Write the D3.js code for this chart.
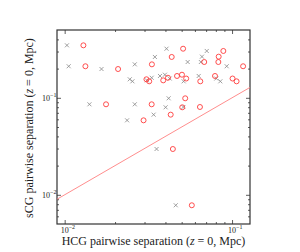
<!DOCTYPE html>
<html>
<head>
<meta charset="utf-8">
<script src="https://cdn.jsdelivr.net/npm/d3@7"></script>
<style>
body { margin: 0; background: #fff; }
text { font-family: "Liberation Serif", "DejaVu Serif", serif; fill: #222; }
</style>
</head>
<body>
<svg id="chart" width="300" height="252"></svg>
<script>
// HCG separation (x) vs sCG separation (y), grey crosses
const crossX = [0.01032, 0.01057, 0.0166, 0.02624, 0.02449, 0.0254, 0.0346, 0.0406, 0.0706, 0.0661,
    0.0543, 0.0651, 0.0929, 0.0331, 0.031, 0.0371, 0.0397, 0.0424, 0.0514, 0.0632,
    0.0805, 0.0851, 0.01406, 0.02624, 0.0236, 0.034, 0.0418, 0.0401, 0.0512, 0.0354, 0.0461]
const crossY = [0.3475, 0.2114, 0.198, 0.2213, 0.1552, 0.1479, 0.2636, 0.3207, 0.3039, 0.2655,
    0.2339, 0.2339, 0.2114, 0.161, 0.1513, 0.1679, 0.173, 0.158, 0.1479, 0.1679,
    0.158, 0.1479, 0.0857, 0.0857, 0.0586, 0.067, 0.0988, 0.0798, 0.0804, 0.02965, 0.0078]
// red open circles
const circleX = [0.01294, 0.0133, 0.02085, 0.0332, 0.0308, 0.032, 0.0436, 0.051, 0.0887, 0.0832,
    0.0682, 0.0828, 0.1164, 0.0414, 0.0388, 0.0469, 0.0502, 0.0532, 0.0646, 0.0791,
    0.1007, 0.1064, 0.01767, 0.0331, 0.0296, 0.043, 0.0525, 0.0504, 0.0643, 0.0443, 0.0575]
const circleY = crossY.slice()
// one-to-one line
const lineX = [0.009, 0.128]

const xTicks = [0.01, 0.1]
const yTicks = [0.01, 0.1]
const xMinor = [0.02, 0.03, 0.04, 0.05, 0.06, 0.07, 0.08, 0.09]
const yMinor = [0.006, 0.007, 0.008, 0.009, 0.02, 0.03, 0.04, 0.05, 0.06, 0.07, 0.08, 0.09, 0.2, 0.3, 0.4]

const svg = d3.select("#chart")
const margin = {top: 30, right: 50, bottom: 28, left: 57}
const width = +svg.attr("width") - margin.left - margin.right
const height = +svg.attr("height") - margin.top - margin.bottom
const g = svg.append("g").attr("transform", "translate(" + margin.left + "," + margin.top + ")")

const x = d3.scaleLog().domain([0.009, 0.128]).range([0, width])
const y = d3.scaleLog().domain([0.005, 0.5]).range([height, 0])

const axisColor = "#333"

// ticks on all four sides, pointing inward
function drawTicks(axisFn, scale, vals, len, transform) {
    const a = g.append("g")
        .attr("transform", transform)
        .call(axisFn(scale).tickValues(vals).tickSize(len).tickFormat(""))
    a.select(".domain").remove()
    a.selectAll("line").attr("stroke", axisColor).attr("stroke-width", 0.8)
}
drawTicks(d3.axisTop, x, xTicks, 4, "translate(0," + height + ")")
drawTicks(d3.axisTop, x, xMinor, 2, "translate(0," + height + ")")
drawTicks(d3.axisBottom, x, xTicks, 4, "translate(0,0)")
drawTicks(d3.axisBottom, x, xMinor, 2, "translate(0,0)")
drawTicks(d3.axisRight, y, yTicks, 4, "translate(0,0)")
drawTicks(d3.axisRight, y, yMinor, 2, "translate(0,0)")
drawTicks(d3.axisLeft, y, yTicks, 4, "translate(" + width + ",0)")
drawTicks(d3.axisLeft, y, yMinor, 2, "translate(" + width + ",0)")

// frame
g.append("rect")
    .attr("width", width)
    .attr("height", height)
    .attr("fill", "none")
    .attr("stroke", axisColor)
    .attr("stroke-width", 1.2)

// tick labels like 10^-2
function powLabel(sel, v) {
    const e = Math.round(Math.log10(v))
    sel.append("tspan").text("10")
    sel.append("tspan").attr("dy", -4).style("font-size", "6px").text("\u2212" + Math.abs(e))
}
xTicks.forEach(v => {
    const t = g.append("text")
        .attr("x", x(v) - 4)
        .attr("y", height + 9)
        .style("font-size", "8px")
        .attr("text-anchor", "start")
    powLabel(t, v)
})
yTicks.forEach(v => {
    const t = g.append("text")
        .attr("x", -15)
        .attr("y", y(v) + 3)
        .style("font-size", "8px")
        .attr("text-anchor", "start")
    powLabel(t, v)
})

// one-to-one line
g.append("path")
    .datum(lineX)
    .attr("d", d3.line().x(d => x(d)).y(d => y(d)))
    .attr("fill", "none")
    .attr("stroke", "#ff8080")
    .attr("stroke-width", 0.9)

// grey crosses
const s = 2
g.selectAll(".cross")
    .data(crossX)
    .enter()
    .append("path")
    .attr("class", "cross")
    .attr("d", (d, i) => {
        const cx = x(d), cy = y(crossY[i])
        return "M" + (cx - s) + "," + (cy - s) + "L" + (cx + s) + "," + (cy + s) +
            "M" + (cx - s) + "," + (cy + s) + "L" + (cx + s) + "," + (cy - s)
    })
    .attr("stroke", "#888")
    .attr("stroke-width", 0.8)

// red circles
g.selectAll(".circ")
    .data(circleX)
    .enter()
    .append("circle")
    .attr("class", "circ")
    .attr("cx", d => x(d))
    .attr("cy", (d, i) => y(circleY[i]))
    .attr("r", 2.5)
    .attr("fill", "none")
    .attr("stroke", "#ff3b3b")
    .attr("stroke-width", 0.9)

// axis titles
const xl = svg.append("text")
    .attr("x", margin.left + width / 2 + 0)
    .attr("y", 245)
    .attr("text-anchor", "middle")
    .style("font-size", "12px")
xl.append("tspan").text("HCG pairwise separation (")
xl.append("tspan").style("font-style", "italic").text("z")
xl.append("tspan").text(" = 0, Mpc)")

const yl = svg.append("text")
    .attr("transform", "translate(33," + (margin.top + height / 2 + 1) + ") rotate(-90)")
    .attr("text-anchor", "middle")
    .style("font-size", "12px")
yl.append("tspan").text("sCG pairwise separation (")
yl.append("tspan").style("font-style", "italic").text("z")
yl.append("tspan").text(" = 0, Mpc)")
</script>
</body>
</html>
